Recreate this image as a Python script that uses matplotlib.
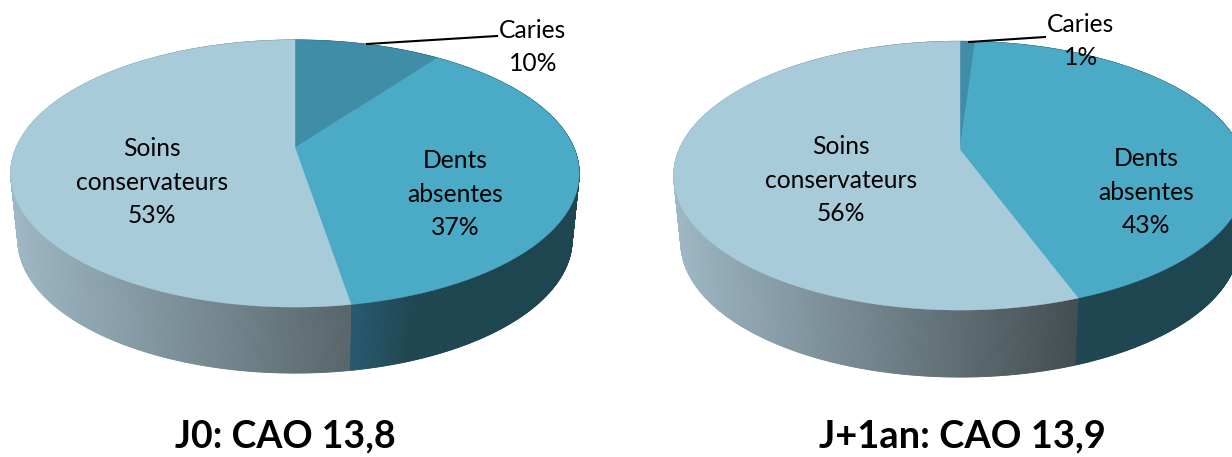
import numpy as np
import matplotlib
matplotlib.use("Agg")
import matplotlib.pyplot as plt
from matplotlib.patches import Polygon
from matplotlib.collections import PolyCollection

plt.rcParams['font.family'] = ['Lato', 'DejaVu Sans']

# Data
categories = ["Caries", "Dents absentes", "Soins conservateurs"]
values_j0 = [10.0, 37.4, 52.6]
values_j1 = [1.0, 43.4, 55.6]
title_j0 = "J0: CAO 13,8"
title_j1 = "J+1an: CAO 13,9"
colors_top = ["#3F8DA7", "#4BAAC6", "#A8CBDA"]

W, H = 1232, 457
fig = plt.figure(figsize=(W / 100, H / 100), dpi=100)
ax = fig.add_axes([0, 0, 1, 1])
ax.set_xlim(0, W)
ax.set_ylim(H, 0)
ax.axis("off")

K = 0.191


def project(theta, cx, cy, a, b, r=1.0):
    """theta clockwise from top, degrees; perspective projection of a disc."""
    t = np.radians(theta)
    u, v = r * np.sin(t), r * np.cos(t)
    d = 1 + K * v
    return cx + a * u / d, cy - b * v / d


def lerp(c0, c1, t):
    t = np.clip(t, 0, 1)
    return tuple(np.array(c0) * (1 - t) + np.array(c1) * t)


def wall_color(cat, x, x0, span):
    t = (x - x0) / span
    if cat == 2:
        light = np.array([0.62, 0.72, 0.77])
        slope = np.array([-0.48, -0.56, -0.61])
        return tuple(np.clip(light + slope * t, 0, 1))
    c0 = matplotlib.colors.to_rgb("#25586C")
    c1 = matplotlib.colors.to_rgb("#1E4650")
    return lerp(c0, c1, (t - 0.59) / 0.09)


def draw_pie(values, cx, cy, a, b, depth, x0, span):
    edges = np.concatenate([[0], np.cumsum(values)]) * 3.6
    for i, col in enumerate(colors_top):
        th = np.linspace(edges[i], edges[i + 1], max(int(edges[i + 1] - edges[i]) * 4, 8))
        # wall
        x, y = project(th, cx, cy, a, b)
        xb = cx + (x - cx) * 0.975
        yb = y + depth
        polys, cols = [], []
        for j in range(len(th) - 1):
            polys.append([(x[j], y[j]), (x[j + 1], y[j + 1]), (xb[j + 1], yb[j + 1]), (xb[j], yb[j])])
            cols.append(wall_color(i, 0.5 * (x[j] + x[j + 1]), x0, span))
        ax.add_collection(PolyCollection(polys, facecolors=cols, edgecolors=cols, linewidths=0.6, zorder=1))
    for i, col in enumerate(colors_top):
        th = np.linspace(edges[i], edges[i + 1], max(int(edges[i + 1] - edges[i]) * 4, 8))
        x, y = project(th, cx, cy, a, b)
        pts = np.column_stack([np.r_[cx, x], np.r_[cy, y]])
        ax.add_patch(Polygon(pts, closed=True, facecolor=col, edgecolor=col, linewidth=0.3, zorder=2))


draw_pie(values_j0, 295, 148, 279, 128.7, 66, 10, 590)
draw_pie(values_j1, 960, 150, 281, 129.5, 67, 673, 540)


def pct(v):
    return f"{round(v)}%"


FS = 17.7
txt = dict(ha="center", va="center", fontsize=FS, color="black", zorder=5, linespacing=1.55)
ax.text(533, 47, f"{categories[0]}\n{pct(values_j0[0])}", **txt)
ax.text(1081, 41, f"{categories[0]}\n{pct(values_j1[0])}", **txt)
ax.text(455, 194, f"Dents\nabsentes\n{pct(values_j0[1])}", **txt)
ax.text(1146, 192, f"Dents\nabsentes\n{pct(values_j1[1])}", **txt)
ax.text(152, 182, f"Soins\nconservateurs\n{pct(values_j0[2])}", **txt)
ax.text(841, 180, f"Soins\nconservateurs\n{pct(values_j1[2])}", **txt)

ax.plot([367, 497], [44, 36], color="black", lw=1.5, zorder=4)
ax.plot([969, 1045], [42, 37], color="black", lw=1.5, zorder=4)

ax.text(285, 436, title_j0, ha="center", va="center", fontsize=27, fontweight="bold", zorder=5)
ax.text(962, 436, title_j1, ha="center", va="center", fontsize=27.4, fontweight="bold", zorder=5)

fig.savefig("out.png", dpi=100)
